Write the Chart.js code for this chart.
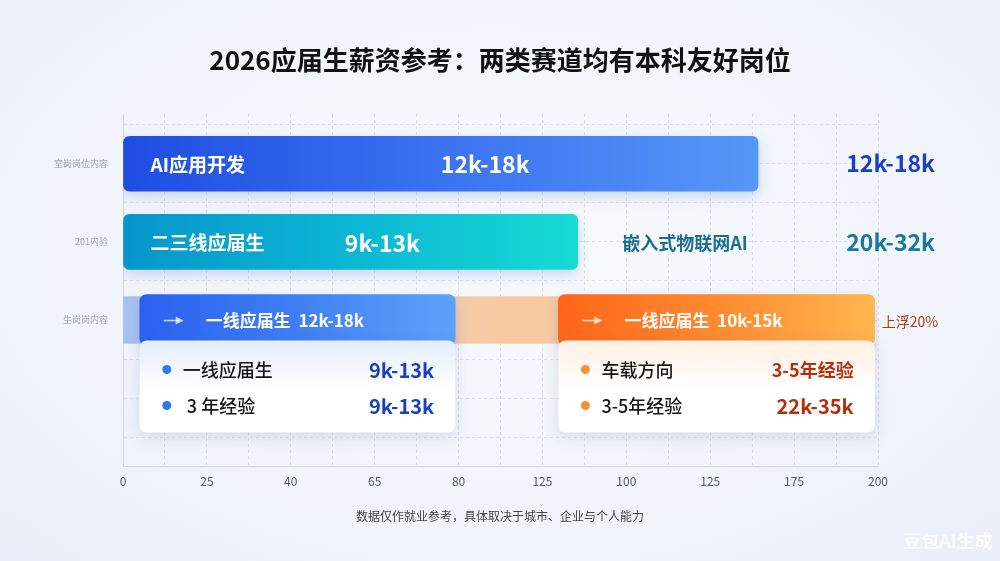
<!DOCTYPE html>
<html>
<head>
<meta charset="utf-8">
<script src="https://cdn.jsdelivr.net/npm/chart.js@4.4.1/dist/chart.umd.min.js"></script>
<style>
  html, body { margin: 0; padding: 0; }
  body {
    width: 1000px; height: 561px; overflow: hidden;
    background: radial-gradient(ellipse at 50% 45%, #f8fafd 0%, #f2f5fb 55%, #e9eef8 100%);
  }
  #wrap { position: relative; width: 1000px; height: 561px; }
</style>
</head>
<body>
<div id="wrap"><canvas id="myChart" width="1000" height="561"></canvas></div>
<script>
// chart data
var titleText = '2026应届生薪资参考：两类赛道均有本科友好岗位'
var footText = '数据仅作就业参考，具体取决于城市、企业与个人能力'
var rowLabels = ['室岗岗位内容', '201内验', '生岗岗内容']
var tickLabels = ['0', '25', '40', '65', '80', '125', '100', '125', '175', '200']

var barEnds = [7.57, 5.42]
var barNames = ['AI应用开发', '二三线应届生']
var barValues = ['12k-18k', '9k-13k']
var sideNames = ['', '嵌入式物联网AI']
var sideValues = ['12k-18k', '20k-32k']

var trackEnd = 8.9
var cardRanges = [[0.2, 3.96], [5.19, 8.96]]
var cardTitles = ['一线应届生  12k-18k', '一线应届生  10k-15k']
var cardRowLabels = [['一线应届生', ' 3 年经验'], ['车载方向', '3-5年经验']]
var cardRowValues = [['9k-13k', '9k-13k'], ['3-5年经验', '22k-35k']]
var cardNotes = ['', '上浮20%']

const FONT = '"Noto Sans CJK SC", "Noto Sans", sans-serif'

// gradient helper, built from the x scale so it follows each bar
function grad(chart, from, to, stops, fallback) {
    const xs = chart.scales && chart.scales.x
    if (!chart.chartArea || !xs) return fallback
    const g = chart.ctx.createLinearGradient(xs.getPixelForValue(from), 0, xs.getPixelForValue(to), 0)
    stops.forEach((c, i) => g.addColorStop(i / (stops.length - 1), c))
    return g
}

const mainColors = [['#1f4de2', '#3a72f0', '#5697f7'], ['#0795cb', '#0cb6d4', '#17dbd3']]
const headColors = [['#2a60ee', '#3f7ff4', '#5ea2f9'], ['#ff651a', '#ff8a30', '#ffb64f']]
const trackColors = ['#a6c1f4', '#e9cdbe', '#f8cba3', '#fac79b', '#fbc596']
const accent = [
    { dot: '#2b7ce9', value: '#1a3fc0', tint: 'rgba(228,238,255,1)' },
    { dot: '#f59138', value: '#b4300c', tint: 'rgba(255,240,226,1)' }
]

const decor = {
    id: 'decor',
    beforeDatasetDraw(chart, args) {
        const ctx = chart.ctx
        ctx.save()
        if (args.index === 2) return
        ctx.shadowColor = 'rgba(40,90,200,0.22)'
        ctx.shadowBlur = 14
        ctx.shadowOffsetY = 5
    },
    afterDatasetDraw(chart) {
        chart.ctx.restore()
    },
    afterDatasetsDraw(chart) {
        const ctx = chart.ctx
        const xs = chart.scales.x

        // text inside the two main bars and beside them
        const mainMeta = chart.getDatasetMeta(1)
        mainMeta.data.forEach((bar, i) => {
            ctx.save()
            ctx.fillStyle = '#ffffff'
            ctx.textBaseline = 'middle'
            ctx.textAlign = 'left'
            ctx.font = 'bold 19px ' + FONT
            ctx.fillText(barNames[i], bar.base + 27, bar.y + 1)
            ctx.textAlign = 'center'
            ctx.font = 'bold 23px ' + FONT
            ctx.fillText(barValues[i], bar.base + (bar.x - bar.base) * 0.57, bar.y + 1)

            ctx.fillStyle = i === 0 ? '#1d3fc4' : '#17799b'
            ctx.font = 'bold 23px ' + FONT
            ctx.fillText(sideValues[i], xs.getPixelForValue(9.15), bar.y)
            if (sideNames[i]) {
                ctx.fillStyle = '#1b6e8e'
                ctx.font = 'bold 18px ' + FONT
                ctx.fillText(sideNames[i], xs.getPixelForValue(6.7), bar.y + 1)
            }
            ctx.restore()
        })

        // the two cards under the floating header bars
        const headMeta = chart.getDatasetMeta(0)
        headMeta.data.forEach((bar, i) => {
            const left = Math.min(bar.base, bar.x), right = Math.max(bar.base, bar.x)
            const top = bar.y + bar.height / 2 - 5
            const h = 92
            ctx.save()
            ctx.shadowColor = 'rgba(60,90,150,0.18)'
            ctx.shadowBlur = 16
            ctx.shadowOffsetY = 4
            const g = ctx.createLinearGradient(0, top, 0, top + h)
            g.addColorStop(0, accent[i].tint)
            g.addColorStop(0.55, '#ffffff')
            g.addColorStop(1, '#ffffff')
            ctx.fillStyle = g
            ctx.beginPath()
            ctx.roundRect(left, top, right - left, h, 7)
            ctx.fill()
            ctx.restore()

            ctx.save()
            // header text
            ctx.textBaseline = 'middle'
            ctx.strokeStyle = 'rgba(255,255,255,0.7)'
            ctx.fillStyle = 'rgba(255,255,255,0.7)'
            ctx.lineWidth = 1.6
            const ay = bar.y + 0.5
            ctx.beginPath()
            ctx.moveTo(left + 24, ay); ctx.lineTo(left + 40, ay); ctx.stroke()
            ctx.beginPath()
            ctx.moveTo(left + 44, ay); ctx.lineTo(left + 36, ay - 4); ctx.lineTo(left + 36, ay + 4); ctx.closePath(); ctx.fill()
            ctx.fillStyle = '#ffffff'
            ctx.font = 'bold 17px ' + FONT
            ctx.textAlign = 'left'
            ctx.fillText(cardTitles[i], left + 66, bar.y + 1)

            // rows of the card
            for (let r = 0; r < 2; r++) {
                const ry = top + 29 + r * 36
                ctx.fillStyle = accent[i].dot
                ctx.beginPath()
                ctx.arc(left + 27, ry, 4.5, 0, Math.PI * 2)
                ctx.fill()
                ctx.fillStyle = '#151515'
                ctx.textAlign = 'left'
                ctx.font = '500 18px ' + FONT
                ctx.fillText(cardRowLabels[i][r], left + 43, ry + 1)
                ctx.fillStyle = accent[i].value
                ctx.textAlign = 'right'
                ctx.font = 'bold ' + (i === 1 && r === 0 ? 18 : 20) + 'px ' + FONT
                ctx.fillText(cardRowValues[i][r], right - 21, ry + 1)
            }
            if (cardNotes[i]) {
                ctx.fillStyle = '#b23a10'
                ctx.textAlign = 'left'
                ctx.font = '14px ' + FONT
                ctx.fillText(cardNotes[i], right + 7, bar.y + 2)
            }
            ctx.restore()
        })
    },
    afterDraw(chart) {
        const ctx = chart.ctx
        ctx.save()
        ctx.textAlign = 'center'
        ctx.textBaseline = 'middle'
        ctx.fillStyle = '#111111'
        ctx.font = 'bold 26px ' + FONT
        ctx.fillText(titleText, chart.width / 2, 60)
        ctx.fillStyle = '#444444'
        ctx.font = '12px ' + FONT
        ctx.fillText(footText, chart.width / 2, 516)
        ctx.fillStyle = 'rgba(255,255,255,0.75)'
        ctx.font = 'bold 18px ' + FONT
        ctx.fillText('豆包AI生成', 948, 541)
        ctx.restore()
    }
}

let ctx = document.getElementById('myChart').getContext('2d')
let chart = new Chart(ctx, {
    type: 'bar',
    data: {
        datasets: [
            {
                // floating header bars of the cards
                label: 'cards',
                data: cardRanges.map(r => ({ x: r, y: 2 })),
                backgroundColor: c => grad(c.chart, cardRanges[c.dataIndex][0], cardRanges[c.dataIndex][1], headColors[c.dataIndex], headColors[c.dataIndex][0]),
                borderRadius: 7,
                borderSkipped: false,
                barThickness: 51,
                grouped: false
            },
            {
                label: 'main',
                data: barEnds.map((v, i) => ({ x: v, y: i })),
                backgroundColor: c => grad(c.chart, 0, barEnds[c.dataIndex], mainColors[c.dataIndex], mainColors[c.dataIndex][0]),
                borderRadius: 6,
                borderSkipped: false,
                barThickness: 55,
                grouped: false
            },
            {
                label: 'track',
                data: [{ x: trackEnd, y: 2 }],
                backgroundColor: c => grad(c.chart, 0, trackEnd, trackColors, '#f7cba6'),
                borderRadius: 0,
                barThickness: 47,
                grouped: false
            }
        ]
    },
    options: {
        indexAxis: 'y',
        responsive: false,
        animation: false,
        layout: { padding: { left: 0, right: 122, top: 114, bottom: 64 } },
        plugins: {
            legend: { display: false },
            tooltip: { enabled: false }
        },
        scales: {
            x: {
                type: 'linear',
                min: 0,
                max: 9,
                ticks: {
                    stepSize: 0.5,
                    autoSkip: false,
                    maxRotation: 0,
                    padding: 8,
                    color: '#555b66',
                    font: { size: 12, family: FONT },
                    callback: v => Number.isInteger(v) ? tickLabels[v] : ''
                },
                grid: { color: 'rgba(175,186,208,0.4)', drawTicks: false },
                border: { display: true, color: '#d3d8e0', dash: [3, 3] }
            },
            y: {
                type: 'linear',
                reverse: true,
                min: -0.636,
                max: 3.875,
                offset: false,
                afterBuildTicks: s => {
                    s.ticks = [-0.5, 0, 0.5, 1, 1.5, 2, 2.5, 3, 3.5].map(v => ({ value: v }))
                },
                afterFit: s => { s.width = 123 },
                ticks: {
                    padding: 15,
                    color: '#a3a9b3',
                    font: { size: 9, family: FONT },
                    callback: v => (Number.isInteger(v) && rowLabels[v]) ? rowLabels[v] : ''
                },
                grid: { color: 'rgba(175,186,208,0.35)', drawTicks: false, offset: false },
                border: { display: true, color: '#d3d8e0', dash: [3, 3] }
            }
        }
    },
    plugins: [decor]
})
</script>
</body>
</html>
